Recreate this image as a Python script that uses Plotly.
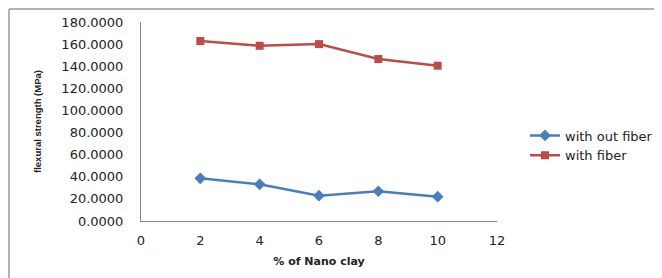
import plotly.graph_objects as go

x_vals = [2, 4, 6, 8, 10]
without_fiber = [38.6, 33.2, 22.9, 26.9, 22.0]
with_fiber = [162.8, 158.5, 160.0, 146.5, 140.5]
y_ticks = [0, 20, 40, 60, 80, 100, 120, 140, 160, 180]
y_tick_text = [f"{v:.4f}" for v in y_ticks]
x_ticks = [0, 2, 4, 6, 8, 10, 12]

fig = go.Figure()
fig.add_trace(go.Scatter(
    x=x_vals, y=without_fiber, name="with out fiber", mode="lines+markers",
    line=dict(color="#4A7EBB", width=2.5),
    marker=dict(symbol="diamond", size=9, color="#4A7EBB"),
))
fig.add_trace(go.Scatter(
    x=x_vals, y=with_fiber, name="with fiber", mode="lines+markers",
    line=dict(color="#BE4B48", width=2.5),
    marker=dict(symbol="square", size=8, color="#BE4B48"),
))

# page has an 8px body margin, so the figure is 8px smaller and offsets reduced by 8
W, H = 654, 270
L, R, T, B = 133, 165, 14, 57
pw, ph = W - L - R, H - T - B

fig.update_layout(
    width=W, height=H,
    margin=dict(l=L, r=R, t=T, b=B, autoexpand=False),
    paper_bgcolor="white", plot_bgcolor="white",
    font=dict(family="DejaVu Sans, sans-serif", size=13, color="#222"),
    showlegend=True,
    legend=dict(x=517 / W, y=1 - 137.5 / H, xref="container", yref="container",
                xanchor="left", yanchor="middle",
                font=dict(size=13, color="#222"), bgcolor="rgba(0,0,0,0)",
                tracegroupgap=2, itemwidth=30),
    xaxis=dict(range=[0, 12], tickvals=x_ticks, showgrid=False, zeroline=False,
               showline=True, linecolor="#888", linewidth=1, ticks="", automargin=False,
               ticklabelstandoff=7, tickfont=dict(size=13),
               title=dict(text="<b>% of Nano clay</b>",
                          font=dict(size=11, family="DejaVu Sans, sans-serif"), standoff=10)),
    yaxis=dict(range=[0, 180], tickvals=y_ticks, ticktext=y_tick_text, showgrid=False,
               zeroline=False, showline=True, linecolor="#888", linewidth=1, ticks="",
               automargin=False,
               ticklabelstandoff=14, tickfont=dict(size=13),
               title=dict(text="<b>flexural strength (MPa)</b>",
                          font=dict(size=9.5, family="Liberation Sans, Arial, sans-serif"),
                          standoff=18)),
    shapes=[
        dict(type="line", xref="paper", yref="paper",
             x0=-(L - 1) / pw, x1=1 + (R + 10) / pw, y0=1 + (T - 1) / ph, y1=1 + (T - 1) / ph,
             line=dict(color="#999", width=1.5)),
        dict(type="line", xref="paper", yref="paper",
             x0=-(L - 1) / pw, x1=-(L - 1) / pw, y0=1 + (T - 1) / ph, y1=-(B + 10) / ph,
             line=dict(color="#999", width=1.5)),
    ],
)

fig.write_html("out.html")
